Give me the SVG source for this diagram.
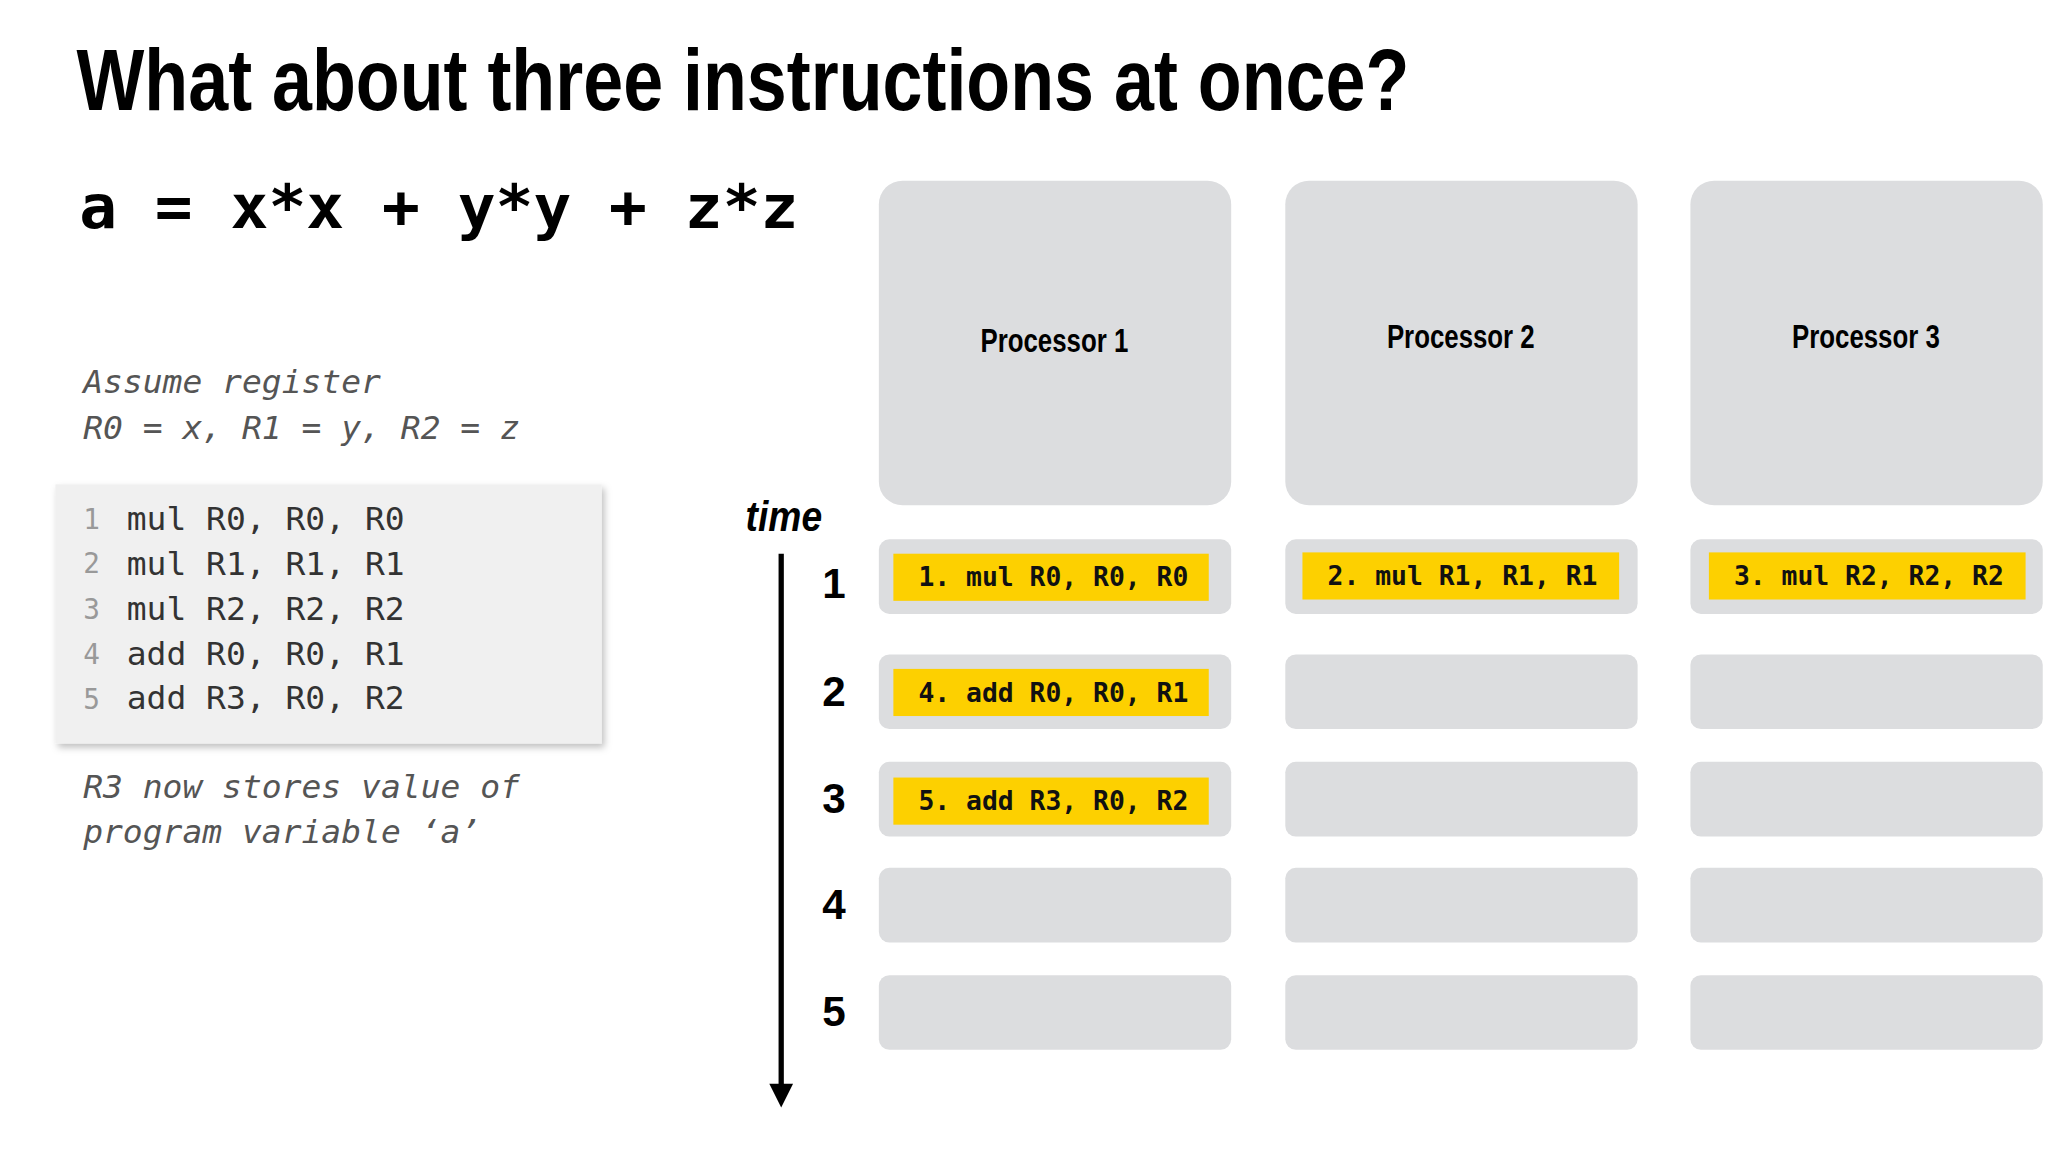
<svg xmlns="http://www.w3.org/2000/svg" width="2048" height="1152" viewBox="0 0 2048 1152">
<defs>
<marker id="ah" markerWidth="10" markerHeight="12" refX="5" refY="11" orient="auto" markerUnits="userSpaceOnUse"><path d="M0,0 L10,0 L5,12 Z" fill="#000" transform="rotate(-90 5 6)"/></marker>
<filter id="sh" x="-10%" y="-10%" width="125%" height="125%"><feDropShadow dx="2" dy="3" stdDeviation="3" flood-color="#000" flood-opacity="0.25"/></filter>
<style>
.t{font-family:"Liberation Sans",Arial,sans-serif;font-weight:bold}
.m{font-family:"DejaVu Sans Mono","Liberation Mono",monospace}
.proc{fill:#dcdddf}
.y{fill:#fdd000}
.it{font-family:"DejaVu Sans Mono",monospace;font-style:italic;font-size:25px;fill:#555}
.code{font-family:"DejaVu Sans Mono",monospace;font-size:25px;fill:#333}
.ln{font-family:"DejaVu Sans Mono",monospace;font-size:21px;fill:#999}
.ins{font-family:"DejaVu Sans Mono",monospace;font-weight:bold;font-size:20px;fill:#111}
.num{font-family:"Liberation Sans",Arial,sans-serif;font-weight:bold;font-size:32px}
.pl{font-family:"Liberation Sans",Arial,sans-serif;font-weight:bold;font-size:25px;text-anchor:middle}
</style>
</defs>
<rect width="2048" height="1152" fill="#fff"/>
<g transform="scale(1.3196 1.309)">
<text class="t" x="58" y="84" font-size="66" textLength="1010" lengthAdjust="spacingAndGlyphs">What about three instructions at once?</text>
<text class="m" x="60" y="174" font-size="46" font-weight="bold" textLength="545" lengthAdjust="spacingAndGlyphs">a = x*x + y*y + z*z</text>
<text class="it" x="63" y="300">Assume register</text>
<text class="it" x="63" y="335">R0 = x, R1 = y, R2 = z</text>
<g id="code">
<rect x="42" y="370" width="414" height="198" fill="#f0f0f0" filter="url(#sh)"/>
<text class="ln" x="63" y="404">1</text><text class="code" x="96" y="405">mul R0, R0, R0</text>
<text class="ln" x="63" y="438">2</text><text class="code" x="96" y="439">mul R1, R1, R1</text>
<text class="ln" x="63" y="473">3</text><text class="code" x="96" y="474">mul R2, R2, R2</text>
<text class="ln" x="63" y="507">4</text><text class="code" x="96" y="508">add R0, R0, R1</text>
<text class="ln" x="63" y="542">5</text><text class="code" x="96" y="542">add R3, R0, R2</text>
</g>
<text class="it" x="63" y="610">R3 now stores value of</text>
<text class="it" x="63" y="644">program variable ‘a’</text>
<g id="p1"><rect class="proc" x="666" y="138" width="267" height="248" rx="18"/><text class="pl" x="799" y="269" textLength="112" lengthAdjust="spacingAndGlyphs">Processor 1</text></g>
<g id="p2"><rect class="proc" x="974" y="138" width="267" height="248" rx="18"/><text class="pl" x="1107" y="266" textLength="112" lengthAdjust="spacingAndGlyphs">Processor 2</text></g>
<g id="p3"><rect class="proc" x="1281" y="138" width="267" height="248" rx="18"/><text class="pl" x="1414" y="266" textLength="112" lengthAdjust="spacingAndGlyphs">Processor 3</text></g>
<g id="slots">
<rect class="proc" x="666" y="412" width="267" height="57" rx="8"/><rect class="proc" x="974" y="412" width="267" height="57" rx="8"/><rect class="proc" x="1281" y="412" width="267" height="57" rx="8"/>
<rect class="proc" x="666" y="500" width="267" height="57" rx="8"/><rect class="proc" x="974" y="500" width="267" height="57" rx="8"/><rect class="proc" x="1281" y="500" width="267" height="57" rx="8"/>
<rect class="proc" x="666" y="582" width="267" height="57" rx="8"/><rect class="proc" x="974" y="582" width="267" height="57" rx="8"/><rect class="proc" x="1281" y="582" width="267" height="57" rx="8"/>
<rect class="proc" x="666" y="663" width="267" height="57" rx="8"/><rect class="proc" x="974" y="663" width="267" height="57" rx="8"/><rect class="proc" x="1281" y="663" width="267" height="57" rx="8"/>
<rect class="proc" x="666" y="745" width="267" height="57" rx="8"/><rect class="proc" x="974" y="745" width="267" height="57" rx="8"/><rect class="proc" x="1281" y="745" width="267" height="57" rx="8"/>
</g>
<g id="instr">
<rect class="y" x="677" y="423" width="239" height="36"/><text class="ins" x="696" y="448">1. mul R0, R0, R0</text>
<rect class="y" x="987" y="422" width="240" height="36"/><text class="ins" x="1006" y="447">2. mul R1, R1, R1</text>
<rect class="y" x="1295" y="422" width="240" height="36"/><text class="ins" x="1314" y="447">3. mul R2, R2, R2</text>
<rect class="y" x="677" y="511" width="239" height="36"/><text class="ins" x="696" y="536">4. add R0, R0, R1</text>
<rect class="y" x="677" y="594" width="239" height="36"/><text class="ins" x="696" y="619">5. add R3, R0, R2</text>
</g>
<text class="num" x="565" y="406" font-style="italic" textLength="58" lengthAdjust="spacingAndGlyphs">time</text>
<text class="num" x="632" y="457" text-anchor="middle">1</text>
<text class="num" x="632" y="539" text-anchor="middle">2</text>
<text class="num" x="632" y="621" text-anchor="middle">3</text>
<text class="num" x="632" y="702" text-anchor="middle">4</text>
<text class="num" x="632" y="784" text-anchor="middle">5</text>
<g id="connectors">
<line x1="592" y1="423" x2="592" y2="830" stroke="#000" stroke-width="4"/>
<path d="M583,828 L601,828 L592,846 Z" fill="#000"/>
</g>
</g>
</svg>
